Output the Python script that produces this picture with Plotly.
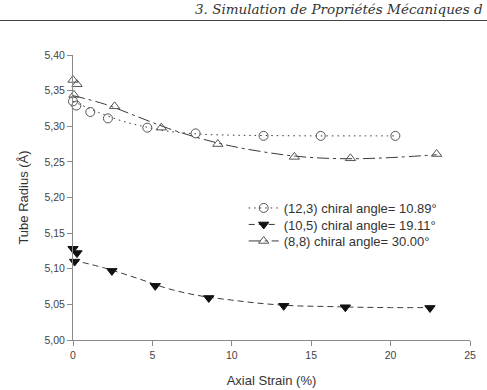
import plotly.graph_objects as go

# --- data ---
strain_123 = [0.0, 0.21, 1.09, 2.2, 4.68, 7.72, 12.0, 15.6, 20.3]
radius_123 = [5.335, 5.329, 5.320, 5.311, 5.298, 5.290, 5.2865, 5.2865, 5.2865]

strain_105 = [0.0, 0.25, 0.1, 2.45, 5.18, 8.55, 13.27, 17.15, 22.48]
radius_105 = [5.128, 5.122, 5.110, 5.097, 5.076, 5.059, 5.048, 5.046, 5.045]

strain_88 = [0.0, 0.25, 0.06, 2.62, 5.56, 9.12, 13.94, 17.47, 22.9]
radius_88 = [5.365, 5.359, 5.344, 5.328, 5.298, 5.275, 5.257, 5.255, 5.261]

# fitted curves
fit_x_123 = [0, 1, 2, 3, 4, 5, 6, 8, 10, 12, 15, 18, 20.3]
fit_y_123 = [5.335, 5.325, 5.316, 5.308, 5.302, 5.297, 5.293, 5.289, 5.2875, 5.287, 5.2865, 5.2865, 5.2865]

fit_x_105 = [0, 2, 4, 6, 8, 10, 12, 14, 16, 18, 20, 22.5]
fit_y_105 = [5.112, 5.101, 5.087, 5.072, 5.062, 5.056, 5.051, 5.048, 5.047, 5.046, 5.0455, 5.0455]

fit_x_88 = [0, 2, 4, 6, 8, 10, 12, 14, 16, 18, 20, 22.9]
fit_y_88 = [5.343, 5.331, 5.314, 5.297, 5.283, 5.272, 5.264, 5.258, 5.255, 5.2545, 5.256, 5.260]

labels = ["(12,3) chiral angle= 10.89°", "(10,5) chiral angle= 19.11°", "(8,8) chiral angle= 30.00°"]

x_ticks = [0, 5, 10, 15, 20, 25]
y_ticks = [5.00, 5.05, 5.10, 5.15, 5.20, 5.25, 5.30, 5.35, 5.40]

header = "3. Simulation de Propriétés Mécaniques d"

LINE = "#3a3a3a"
MK = "#555555"

series = [
    dict(x=strain_123, y=radius_123, fx=fit_x_123, fy=fit_y_123, name=labels[0],
         dash="1.5px,4px", symbol="circle-open", color=MK, size=9),
    dict(x=strain_105, y=radius_105, fx=fit_x_105, fy=fit_y_105, name=labels[1],
         dash="6px,4px", symbol="triangle-down", color="#111111", size=9),
    dict(x=strain_88, y=radius_88, fx=fit_x_88, fy=fit_y_88, name=labels[2],
         dash="12px,4px,3px,4px", symbol="triangle-up-open", color=MK, size=9),
]

legend_names = ["legend", "legend2", "legend3"]

fig = go.Figure()
for s in series:
    fig.add_trace(go.Scatter(x=s["fx"], y=s["fy"], mode="lines", line_shape="spline",
                             line=dict(color=LINE, width=1, dash=s["dash"]),
                             showlegend=False, hoverinfo="skip"))
    fig.add_trace(go.Scatter(x=s["x"], y=s["y"], mode="markers", cliponaxis=False,
                             marker=dict(symbol=s["symbol"], size=s["size"], color=s["color"],
                                         line=dict(color=s["color"], width=1)),
                             showlegend=False))
for s, lg in zip(series, legend_names):
    fig.add_trace(go.Scatter(x=[None], y=[None], mode="lines+markers", name=s["name"],
                             legend=lg,
                             line=dict(color=LINE, width=1, dash=s["dash"]),
                             marker=dict(symbol=s["symbol"], size=s["size"], color=s["color"],
                                         line=dict(color=s["color"], width=1))))

axis_common = dict(showgrid=False, zeroline=False, showline=True, linecolor="#8a8a8a",
                   linewidth=1, ticks="outside", ticklen=5, tickcolor="#8a8a8a",
                   automargin=False,
                   tickfont=dict(family="Liberation Sans, Arial", size=10.5, color="#444"))

PLOT_T, PLOT_B = 55, 340
def ypaper(px):
    return (PLOT_B - px) / (PLOT_B - PLOT_T)

leg_font = dict(family="Liberation Sans, Arial", size=13, color="#333")
legends = {}
for lg, row_y in zip(legend_names, [208, 224.5, 241]):
    legends[lg] = dict(x=0.43, y=ypaper(row_y), xanchor="left", yanchor="middle",
                       bgcolor="rgba(0,0,0,0)", font=leg_font)

fig.update_layout(
    width=487, height=390,
    margin=dict(l=73, r=17, t=PLOT_T, b=390 - PLOT_B),
    paper_bgcolor="white", plot_bgcolor="white",
    separators=", ",
    xaxis=dict(range=[0, 25], tickvals=x_ticks, ticktext=[str(v) for v in x_ticks],
               title=dict(text="Axial Strain (%)", standoff=16,
                          font=dict(family="Liberation Sans, Arial", size=13, color="#333")),
               **axis_common),
    yaxis=dict(range=[5.0, 5.4], tickvals=y_ticks, tickformat=".2f",
               title=dict(text="Tube Radius (Å)", standoff=12,
                          font=dict(family="Liberation Sans, Arial", size=13, color="#333")),
               **axis_common),
    showlegend=True,
    **legends,
)

fig.add_annotation(text="<i>" + header + "</i>", xref="paper", yref="paper",
                   x=1 + 15 / 397, y=1 + (55 - 9) / 285, xanchor="right", yanchor="middle",
                   showarrow=False, font=dict(family="DejaVu Serif, Liberation Serif", size=13.5, color="#333"))
fig.add_shape(type="line", xref="paper", yref="paper",
              x0=-73 / 397, x1=1 + 17 / 397, y0=1 + (55 - 20.5) / 285, y1=1 + (55 - 20.5) / 285,
              line=dict(color="#444", width=1.2))

fig.write_html("out.html")
